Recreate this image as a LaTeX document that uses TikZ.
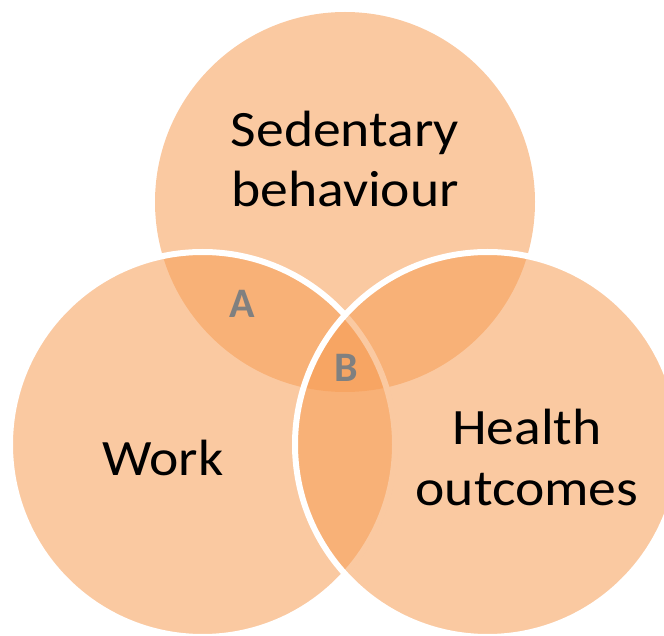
\documentclass[tikz,border=0pt]{standalone}
\usepackage{fontspec}
\setmainfont{Carlito}
\newfontfamily\setfont{Carlito}[FakeStretch=1.09]
\definecolor{circfill}{RGB}{246,156,83}
\definecolor{lettergray}{RGB}{128,128,128}
\begin{document}
\begin{tikzpicture}[x=1pt,y=1pt,
  venn/.style={fill=circfill, fill opacity=0.545},
  vennedge/.style={venn, draw=white, line width=6pt, draw opacity=1},
  setlabel/.style={font=\setfont\fontsize{51}{61}\selectfont, text=black, inner sep=0pt, anchor=base},
  regionlabel/.style={font=\fontsize{42}{50}\selectfont\bfseries, text=lettergray, inner sep=0pt, anchor=base}
]
\useasboundingbox (0,0) rectangle (664,635);
\clip (0,0) rectangle (664,635);
\path[venn] (345,433) circle (190);
\path[vennedge] (202.5,190.5) circle (192.5);
\path[vennedge] (487.5,190.5) circle (192.5);
\node[setlabel] (sed1) at (345,488.5) {Sedentary};
\node[setlabel] (sed2) at (345,428.5) {behaviour};
\node[setlabel] (work) at (163,160) {Work};
\node[setlabel] (hea1) at (527,190) {Health};
\node[setlabel] (hea2) at (527,130) {outcomes};
\node[regionlabel] (A) at (242,317) {A};
\node[regionlabel] (B) at (346,253) {B};
\end{tikzpicture}
\end{document}
